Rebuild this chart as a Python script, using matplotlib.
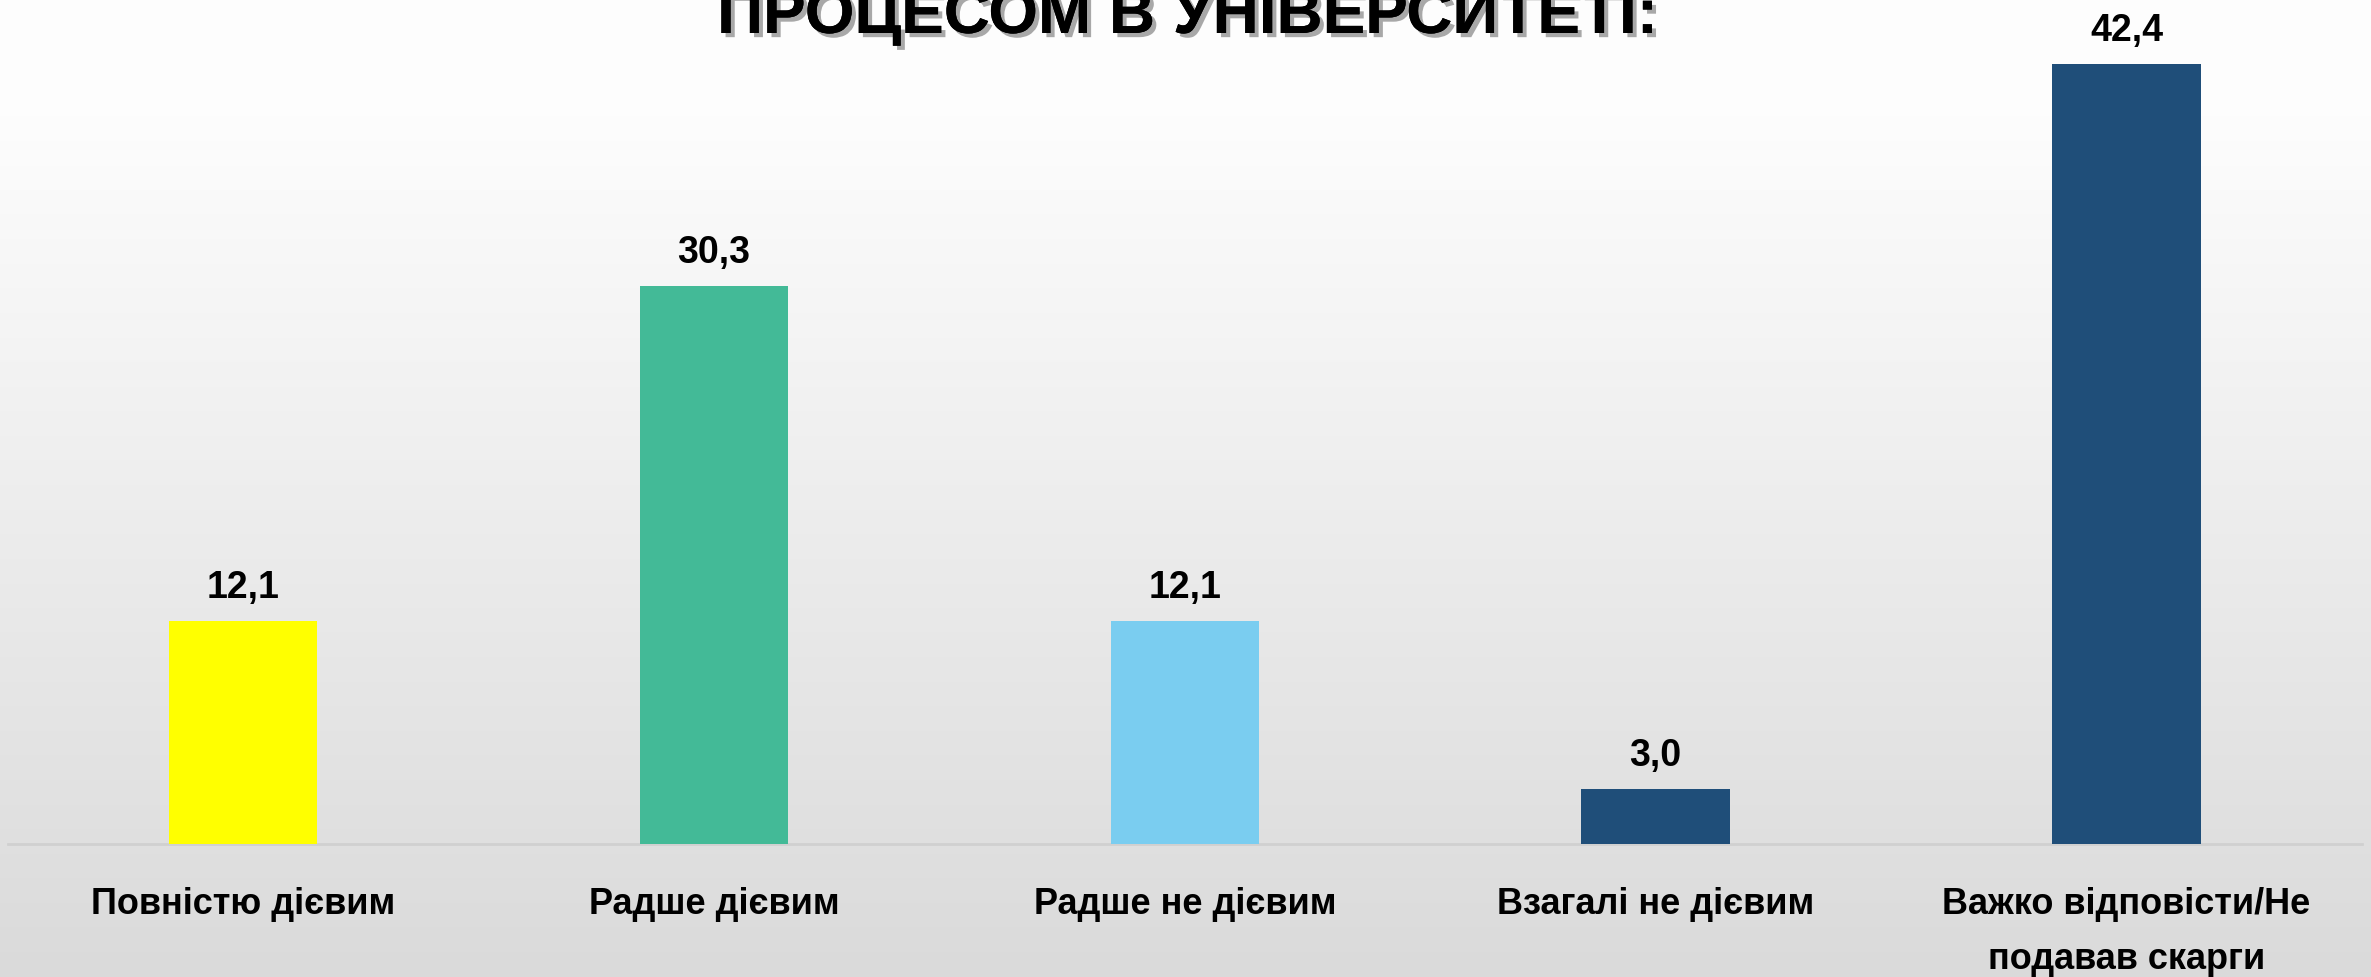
#!/usr/bin/env python3
"""Bar chart: effectiveness of the complaint process at the university."""

import numpy as np
import matplotlib
matplotlib.use("Agg")
import matplotlib.pyplot as plt
import matplotlib.patheffects as pe
from matplotlib import font_manager

# data
categories = ["Повністю дієвим", "Радше дієвим", "Радше не дієвим",
              "Взагалі не дієвим", "Важко відповісти/Не\nподавав скарги"]
values = [12.1, 30.3, 12.1, 3.0, 42.4]
value_labels = ["12,1", "30,3", "12,1", "3,0", "42,4"]
colors = ["#FFFF00", "#43BA97", "#7ACDF0", "#1F4E79", "#1F4E79"]
title = "ПРОЦЕСОМ В УНІВЕРСИТЕТІ:"

# шрифт: вузький, якщо є
names = {f.name for f in font_manager.fontManager.ttflist}
narrow = "Liberation Sans Narrow" if "Liberation Sans Narrow" in names else "Liberation Sans"
plt.rcParams["font.family"] = [narrow, "DejaVu Sans"]

W, H = 2371, 977
fig = plt.figure(figsize=(W / 100, H / 100), dpi=100)

# фон з градієнтом (зверху білий, донизу сірий)
bg = fig.add_axes([0, 0, 1, 1], zorder=-10)
t = np.linspace(0, 1, 512).reshape(-1, 1)
grad = 0.995 - 0.14 * np.clip((t - 0.1) / 0.9, 0, 1)
bg.imshow(np.dstack([grad, grad, grad]), aspect="auto", extent=[0, 1, 0, 1])
bg.axis("off")

ax = fig.add_axes([7.5 / W, 133 / H, (2362 - 7.5) / W, 828 / H])
ax.patch.set_alpha(0)
x = np.arange(len(categories))
bars = ax.bar(x, values, width=0.315, color=colors, zorder=3)
ax.set_xlim(-0.5, len(categories) - 0.5)
ax.set_ylim(0, 45)

for bar, lab in zip(bars, value_labels):
    ax.annotate(lab, (bar.get_x() + bar.get_width() / 2, bar.get_height()),
                xytext=(0, 11), textcoords="offset points",
                ha="center", va="bottom", fontsize=27, fontweight="bold")

ax.set_xticks(x)
ax.set_xticklabels(categories, fontsize=26, fontweight="bold", linespacing=1.75,
                   va="top")
ax.tick_params(axis="x", length=0, pad=31)
ax.set_yticks([])
for s in ["top", "right", "left"]:
    ax.spines[s].set_visible(False)
ax.spines["bottom"].set_color("#D0D0D0")
ax.spines["bottom"].set_linewidth(2)

fig.text(1187 / W, 1 - 33 / H, title, ha="center", va="baseline",
         fontsize=46, fontweight="bold",
         path_effects=[pe.withSimplePatchShadow(offset=(3, -3), shadow_rgbFace="#555555",
                                                alpha=0.5), pe.Normal()])

fig.savefig("out.png", dpi=100)
